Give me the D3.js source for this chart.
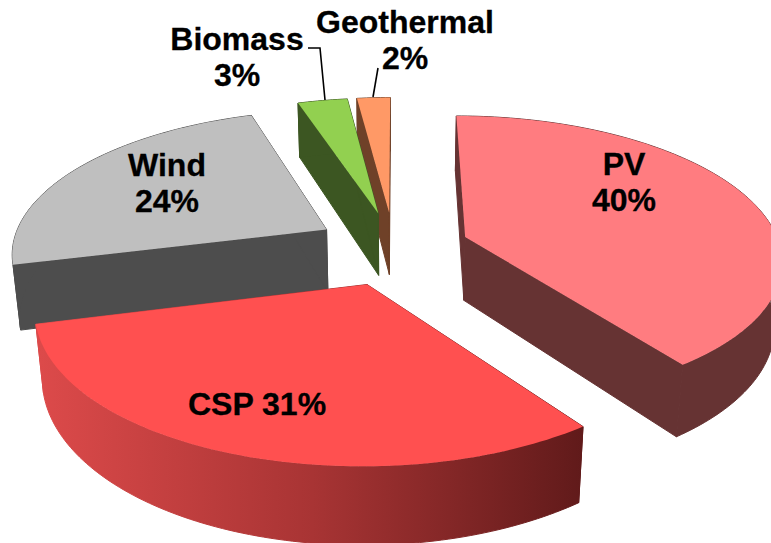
<!DOCTYPE html>
<html>
<head>
<meta charset="utf-8">
<script src="https://cdn.jsdelivr.net/npm/d3@7"></script>
<style>
  html, body { margin: 0; padding: 0; background: #fff; }
  svg { display: block; }
  text { font-family: "Liberation Sans", Arial, sans-serif; font-weight: 700; fill: #000; stroke: #000; stroke-width: 0.3; }
</style>
</head>
<body>
<svg id="chart" width="771" height="543"></svg>
<script>
// Share of each technology, in percent
const categories = ["PV", "CSP", "Wind", "Biomass", "Geothermal"];
const shares = [40, 31, 24, 3, 2];

// Colours of the top faces and of the side walls
const topColors = ["#FF7C80", "#FF5050", "#BFBFBF", "#92D050", "#FF9966"];
const wallColors = ["#663333", "url(#cspWall)", "#4D4D4D", "#3C5622", "#6F4128"];

// Pull-out distance of each slice, as a fraction of the radius
const explode = [0.23, 0.27, 0.26, 0.25, 0.25];
// Small sideways correction of the narrow slices
const sideways = [0, 0, 0, -0.007, -0.01];

// Painting order: far slices first
const paintOrder = [4, 3, 2, 0, 1];

// Camera of the tilted disc
const cam = { cx: 397, cy: 247, f: 315, g: 142, depth: 64, k: 0.15, m: 0.02 };

function project(X, Y, Z) {
  const w = 1 + cam.k * Y;
  return [cam.cx + cam.f * X / (w + cam.m * Z), cam.cy + (-cam.g * Y + cam.depth * Z) / w];
}

const svg = d3.select("#chart");

const grad = svg.append("defs").append("linearGradient")
  .attr("id", "cspWall").attr("gradientUnits", "userSpaceOnUse")
  .attr("x1", 40).attr("x2", 585).attr("y1", 0).attr("y2", 0);
grad.append("stop").attr("offset", 0).attr("stop-color", "#DC4A4A");
grad.append("stop").attr("offset", 0.5).attr("stop-color", "#A83434");
grad.append("stop").attr("offset", 1).attr("stop-color", "#601A1A");

const arcs = d3.pie().sort(null).value(d => d)(shares);
const line = d3.line().curve(d3.curveLinearClosed);

// Outline helpers working on a slice's own exploded centre
function ringPoints(a0, a1, ox, oy, Z) {
  const n = Math.max(2, Math.ceil((a1 - a0) / 0.02));
  return d3.range(n + 1).map(i => {
    const a = a0 + (a1 - a0) * i / n;
    return project(ox + Math.sin(a), oy + Math.cos(a), Z);
  });
}

paintOrder.forEach(i => {
  const s = arcs[i];
  const mid = (s.startAngle + s.endAngle) / 2;
  const ox = explode[i] * Math.sin(mid) + sideways[i];
  const oy = explode[i] * Math.cos(mid);
  const g = svg.append("g").attr("class", "slice");

  const radial = (a, fill) => g.append("path")
    .attr("d", line([
      project(ox, oy, 0),
      project(ox + Math.sin(a), oy + Math.cos(a), 0),
      project(ox + Math.sin(a), oy + Math.cos(a), 1),
      project(ox, oy, 1)
    ]))
    .attr("fill", fill).attr("stroke", fill).attr("stroke-width", 1);

  radial(s.startAngle, wallColors[i]);
  radial(s.endAngle, wallColors[i]);

  g.append("path")
    .attr("d", line(ringPoints(s.startAngle, s.endAngle, ox, oy, 0)
      .concat(ringPoints(s.startAngle, s.endAngle, ox, oy, 1).reverse())))
    .attr("fill", wallColors[i]).attr("stroke", wallColors[i]).attr("stroke-width", 1);

  g.append("path")
    .attr("d", line([project(ox, oy, 0)].concat(ringPoints(s.startAngle, s.endAngle, ox, oy, 0))))
    .attr("fill", topColors[i]);
});

// Leader lines of the two small slices
const leaders = [
  [[308, 48], [320, 48], [325, 100]],
  [[378, 68], [373, 97]]
];
svg.selectAll("path.leader").data(leaders).join("path")
  .attr("class", "leader")
  .attr("d", d3.line())
  .attr("fill", "none").attr("stroke", "#000").attr("stroke-width", 1.6);

// Slice labels
const labels = [
  { lines: [categories[0], shares[0] + "%"], x: 624, y: 175 },
  { lines: [categories[1] + " " + shares[1] + "%"], x: 257, y: 415 },
  { lines: [categories[2], shares[2] + "%"], x: 167, y: 176 },
  { lines: [categories[3], shares[3] + "%"], x: 237, y: 50 },
  { lines: [categories[4], shares[4] + "%"], x: 405, y: 33 }
];
labels.forEach(l => {
  const t = svg.append("text")
    .attr("text-anchor", "middle")
    .attr("font-size", 32)
    .attr("transform", `translate(${l.x},${l.y})`);
  l.lines.forEach((txt, j) => t.append("tspan").attr("x", 0).attr("y", j * 35.5).text(txt));
});
</script>
</body>
</html>
